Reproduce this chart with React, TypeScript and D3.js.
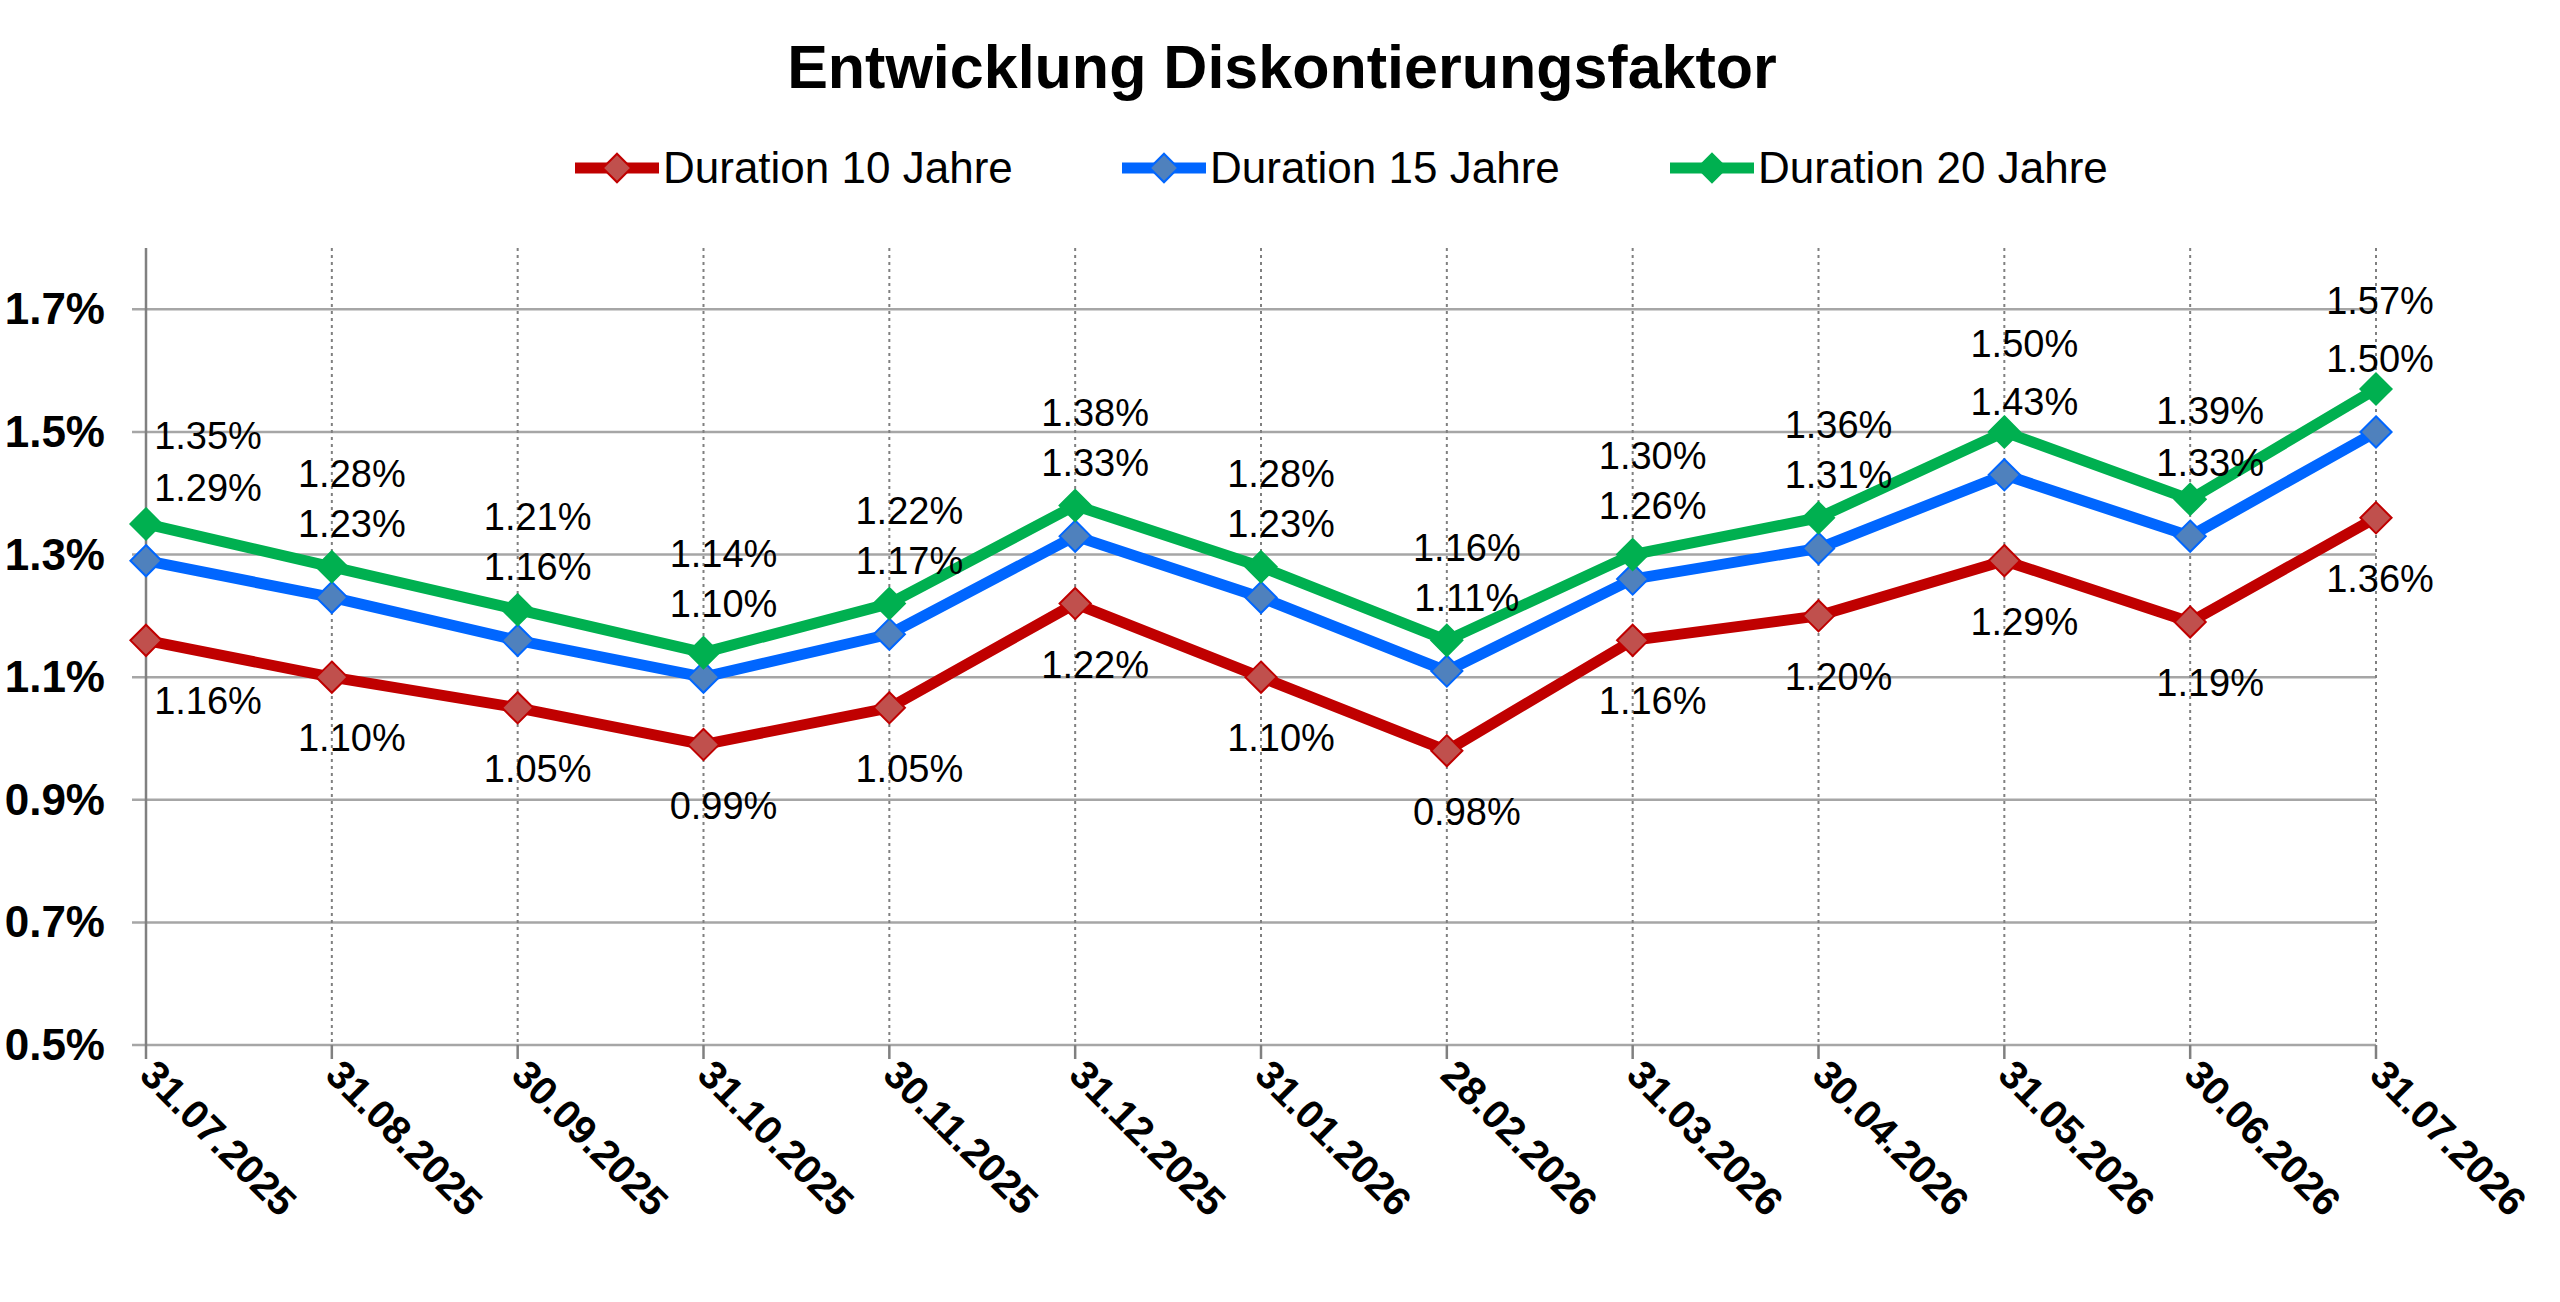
import React, { useEffect, useRef } from 'react';
import * as d3 from 'd3';

const dates = ['31.07.2025', '31.08.2025', '30.09.2025', '31.10.2025', '30.11.2025', '31.12.2025', '31.01.2026', '28.02.2026', '31.03.2026', '30.04.2026', '31.05.2026', '30.06.2026', '31.07.2026'];
const dur10 = [1.16, 1.10, 1.05, 0.99, 1.05, 1.22, 1.10, 0.98, 1.16, 1.20, 1.29, 1.19, 1.36];
const dur15 = [1.29, 1.23, 1.16, 1.10, 1.17, 1.33, 1.23, 1.11, 1.26, 1.31, 1.43, 1.33, 1.50];
const dur20 = [1.35, 1.28, 1.21, 1.14, 1.22, 1.38, 1.28, 1.16, 1.30, 1.36, 1.50, 1.39, 1.57];
const yTicks = [0.5, 0.7, 0.9, 1.1, 1.3, 1.5, 1.7];

const series = [
  { name: 'Duration 10 Jahre', values: dur10, line: '#C00000', marker: '#C0504D' },
  { name: 'Duration 15 Jahre', values: dur15, line: '#0066FF', marker: '#4F81BD' },
  { name: 'Duration 20 Jahre', values: dur20, line: '#00B050', marker: '#00B050' },
];

const W = 2560, H = 1302;
const font = 'Liberation Sans, Arial, sans-serif';

const App: React.FC = () => {
  const svgRef = useRef<SVGSVGElement>(null);

  useEffect(() => {
    document.body.style.margin = '0';
    if (!svgRef.current) return;
    const svg = d3.select(svgRef.current);
    svg.selectAll('*').remove();

    const left = 146, right = 2376, top = 248, bottom = 1045;
    const x = d3.scalePoint<string>().domain(dates).range([left, right]);
    const y = d3.scaleLinear().domain([0.5, 1.8]).range([bottom, top]);

    svg.append('rect').attr('width', W).attr('height', H).attr('fill', '#fff');

    // title
    svg.append('text').attr('x', 1282).attr('y', 88).attr('text-anchor', 'middle')
      .attr('font-family', font).attr('font-weight', 'bold').attr('font-size', 61).text('Entwicklung Diskontierungsfaktor');

    // legend
    const legendX = [575, 1122, 1670];
    series.forEach((s, i) => {
      const g = svg.append('g').attr('transform', `translate(${legendX[i]},168)`);
      g.append('line').attr('x1', 0).attr('x2', 84).attr('stroke', s.line).attr('stroke-width', 11);
      g.append('path').attr('d', d3.symbol(d3.symbolDiamond2, 520)()).attr('transform', 'translate(42,0)')
        .attr('fill', s.marker).attr('stroke', s.line).attr('stroke-width', 2);
      g.append('text').attr('x', 88).attr('y', 15).attr('font-family', font).attr('font-size', 44).text(s.name);
    });

    // horizontal grid
    yTicks.forEach(t => {
      svg.append('line').attr('x1', left - 14).attr('x2', right).attr('y1', y(t)).attr('y2', y(t))
        .attr('stroke', '#A6A6A6').attr('stroke-width', 2.5);
      svg.append('text').attr('x', 105).attr('y', y(t) + 15).attr('text-anchor', 'end')
        .attr('font-family', font).attr('font-weight', 'bold').attr('font-size', 44).text(`${t.toFixed(1)}%`);
    });

    // vertical dotted grid
    dates.forEach((d, i) => {
      if (i > 0) {
        svg.append('line').attr('x1', x(d)!).attr('x2', x(d)!).attr('y1', top).attr('y2', bottom)
          .attr('stroke', '#808080').attr('stroke-width', 2).attr('stroke-dasharray', '3,4');
      }
      svg.append('line').attr('x1', x(d)!).attr('x2', x(d)!).attr('y1', bottom).attr('y2', bottom + 14)
        .attr('stroke', '#808080').attr('stroke-width', 2.5);
      svg.append('text').attr('transform', `translate(${x(d)! - 8},${bottom + 32}) rotate(45)`)
        .attr('font-family', font).attr('font-weight', 'bold').attr('font-size', 40).text(d);
    });
    svg.append('line').attr('x1', left).attr('x2', left).attr('y1', top).attr('y2', bottom)
      .attr('stroke', '#808080').attr('stroke-width', 2.5);

    // lines + markers
    series.forEach(s => {
      const line = d3.line<number>().x((_, i) => x(dates[i])!).y(v => y(v));
      svg.append('path').attr('d', line(s.values)).attr('fill', 'none')
        .attr('stroke', s.line).attr('stroke-width', 11).attr('stroke-linejoin', 'round');
      s.values.forEach((v, i) => {
        svg.append('path').attr('d', d3.symbol(d3.symbolDiamond2, 620)())
          .attr('transform', `translate(${x(dates[i])},${y(v)})`)
          .attr('fill', s.marker).attr('stroke', s.line).attr('stroke-width', 2);
      });
    });

    // data labels
    const lbl = (px: number, py: number, text: string) =>
      svg.append('text').attr('x', px).attr('y', py).attr('text-anchor', 'middle')
        .attr('font-family', font).attr('font-size', 38).text(text);
    dates.forEach((d, i) => {
      const cx = x(d)! + (i === 0 ? 62 : i === dates.length - 1 ? 4 : 20);
      lbl(cx, y(dur10[i]) + 74, `${dur10[i].toFixed(2)}%`);
      const by = y(dur15[i]) - 60;
      lbl(cx, by, `${dur15[i].toFixed(2)}%`);
      lbl(cx, Math.min(y(dur20[i]) - 75, by - 50), `${dur20[i].toFixed(2)}%`);
    });
  }, []);

  return <svg ref={svgRef} width={W} height={H} style={{ display: 'block' }} />;
};

export default App;
